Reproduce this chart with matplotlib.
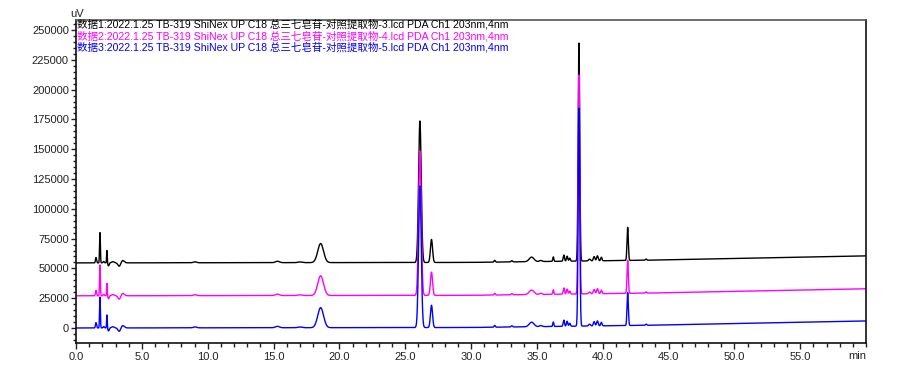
import numpy as np
import matplotlib
matplotlib.use("Agg")
import matplotlib.pyplot as plt
from matplotlib.ticker import MultipleLocator, FormatStrFormatter

# ---- data ----
series_labels = [
    "数据1:2022.1.25 TB-319 ShiNex UP C18 总三七皂苷-对照提取物-3.lcd PDA Ch1 203nm,4nm",
    "数据2:2022.1.25 TB-319 ShiNex UP C18 总三七皂苷-对照提取物-4.lcd PDA Ch1 203nm,4nm",
    "数据3:2022.1.25 TB-319 ShiNex UP C18 总三七皂苷-对照提取物-5.lcd PDA Ch1 203nm,4nm",
]
series_colors = ["#000000", "#ff00ff", "#0000ff"]
series_offsets = [54600, 27000, 0]          # uV, baseline of each trace

# peak table: retention time (min), width sigma (min), height per series (uV)
peak_rt = [1.52, 1.82, 2.1, 2.35, 2.47, 2.8, 3.29, 3.54, 9.04, 15.3, 17.0,
           18.58, 26.12, 27.0, 31.8, 33.1, 34.6, 35.3, 36.25, 37.05, 37.3,
           37.5, 38.2, 39.0, 39.35, 39.6, 39.9, 41.9, 43.3]
peak_sigma = [0.04, 0.03, 0.05, 0.025, 0.05, 0.1, 0.1, 0.12, 0.12, 0.15, 0.15,
              0.22, 0.1, 0.08, 0.05, 0.06, 0.18, 0.1, 0.04, 0.05, 0.05,
              0.05, 0.06, 0.07, 0.06, 0.06, 0.05, 0.05, 0.05]
peak_height_1 = [4500, 25500, 1200, 10500, -2500, 1000, -3000, 2000, 800, 1200, 600,
                 16000, 118700, 19300, 1500, 1000, 3800, 900, 3800, 5200, 4200,
                 2500, 183000, 1500, 3600, 4200, 3000, 27700, 1000]
peak_height_2 = [4500, 26000, 1200, 10500, -2500, 1000, -3000, 2000, 800, 1200, 600,
                 16500, 121000, 19500, 1500, 1000, 3800, 900, 3800, 5200, 4200,
                 2500, 183800, 1500, 3600, 4200, 3000, 27700, 1000]
peak_height_3 = [4500, 26000, 1200, 11000, -2500, 1000, -3000, 2000, 800, 1200, 600,
                 16800, 118700, 18700, 1500, 1000, 3800, 900, 3800, 5200, 4200,
                 2500, 183000, 1500, 3600, 4200, 3000, 27700, 1000]
peak_heights = [peak_height_1, peak_height_2, peak_height_3]

# baseline drift knots (min, uV)
baseline_t = [0.0, 30.0, 43.5, 60.0]
baseline_v = [0.0, 400.0, 2300.0, 5900.0]

x_ticks = [0, 5, 10, 15, 20, 25, 30, 35, 40, 45, 50, 55]
y_ticks = [0, 25000, 50000, 75000, 100000, 125000, 150000, 175000,
           200000, 225000, 250000]

# ---- figure ----
plt.rcParams['font.family'] = ['Liberation Sans', 'Noto Sans CJK SC', 'DejaVu Sans']
fig = plt.figure(figsize=(9.0, 3.71), dpi=100)
ax = fig.add_axes([76 / 900, 1 - 343 / 371, (866 - 76) / 900, (343 - 20) / 371])

t = np.linspace(0, 60.0, 8000)
rt = np.array(peak_rt)
sg = np.array(peak_sigma)
base = np.interp(t, baseline_t, baseline_v)
for heights, col, off in zip(peak_heights, series_colors, series_offsets):
    h = np.array(heights)
    y = base + off + (h[None, :] * np.exp(-0.5 * ((t[:, None] - rt[None, :]) / sg[None, :]) ** 2)).sum(axis=1)
    ax.plot(t, y, color=col, lw=1.0)

ax.set_xlim(0, 60.0)
ax.set_ylim(-12600, 258400)
ax.set_xticks(x_ticks)
ax.set_yticks(y_ticks)
ax.xaxis.set_major_formatter(FormatStrFormatter('%.1f'))
ax.yaxis.set_major_formatter(FormatStrFormatter('%d'))
ax.xaxis.set_minor_locator(MultipleLocator(1))
ax.yaxis.set_minor_locator(MultipleLocator(5000))
ax.tick_params(axis='both', which='major', labelsize=8, colors='#222222',
               length=3.6, width=1.0, direction='out', pad=1.5)
ax.tick_params(axis='both', which='minor', length=2.2, width=1.0, direction='out',
               colors='#222222')
ax.tick_params(axis='x', which='major', length=4.3, pad=2.0)
ax.tick_params(axis='x', which='minor', length=2.9)
for s in ['left', 'bottom', 'right']:
    ax.spines[s].set_color('#111111')
    ax.spines[s].set_linewidth(1.2)
ax.spines['top'].set_color('#555555')
ax.spines['top'].set_linewidth(1.2)

fig.text(70 / 900, 1 - 14 / 371, "uV", fontsize=8, color='#222222', ha='left', va='center')
fig.text(866 / 900, 1 - 356 / 371, "min", fontsize=8, color='#222222', ha='right', va='center')

for i, (lab, col) in enumerate(zip(series_labels, series_colors)):
    fig.text(77 / 900, 1 - (24.5 + 11.5 * i) / 371, lab, fontsize=7.6, color=col,
             ha='left', va='center')

fig.savefig("out.png", dpi=100)
